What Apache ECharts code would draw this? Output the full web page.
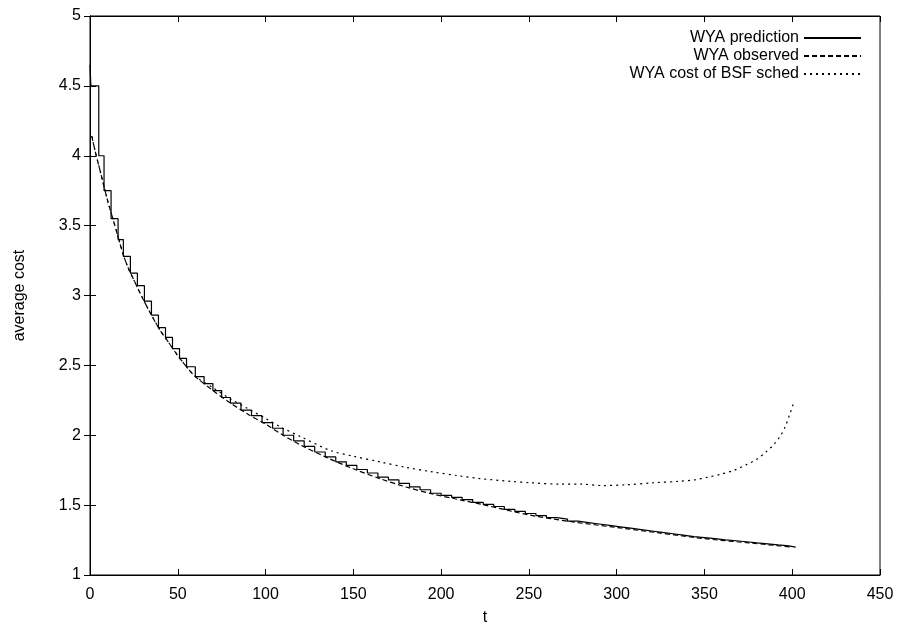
<!DOCTYPE html>
<html>
<head>
<meta charset="utf-8">
<script src="https://cdn.jsdelivr.net/npm/echarts@6/dist/echarts.min.js"></script>
<style>
html,body{margin:0;padding:0;background:#fff;}
#chart{width:899px;height:631px;}
</style>
</head>
<body>
<div id="chart"></div>
<script>
// ---- data ----
const xTicks = [0, 50, 100, 150, 200, 250, 300, 350, 400, 450];
const yTicks = [1, 1.5, 2, 2.5, 3, 3.5, 4, 4.5, 5];

// WYA prediction (step function)
const predT = [0, 0.5, 5, 8, 12, 16, 19, 23, 27, 31, 35, 39, 43, 47, 51, 55, 60, 65, 70, 75, 80, 86, 92, 98,
  104, 110, 116, 122, 128, 134, 140, 146, 152, 158, 164, 170, 176, 182, 188, 194, 200, 206, 212, 218, 224, 230,
  236, 242, 248, 254, 260, 266, 272, 278, 284, 290, 296, 302, 308, 314, 320, 326, 332, 338, 344, 350, 356, 362,
  368, 374, 380, 386, 392, 398, 402];
const predV = [4.65, 4.5, 4.0, 3.75, 3.55, 3.40, 3.28, 3.16, 3.07, 2.96, 2.86, 2.77, 2.70, 2.62, 2.55, 2.49, 2.42, 2.37, 2.32, 2.27, 2.23, 2.18, 2.14, 2.09,
  2.05, 2.00, 1.96, 1.92, 1.88, 1.845, 1.81, 1.785, 1.755, 1.73, 1.70, 1.68, 1.655, 1.63, 1.61, 1.585, 1.57, 1.555, 1.54, 1.52, 1.505, 1.49,
  1.47, 1.455, 1.44, 1.425, 1.41, 1.40, 1.385, 1.375, 1.365, 1.355, 1.345, 1.335, 1.325, 1.315, 1.305, 1.295, 1.285, 1.275, 1.268, 1.26, 1.252, 1.245,
  1.238, 1.23, 1.223, 1.215, 1.208, 1.20, 1.195];

// WYA observed
const obsT = [1, 3, 5, 7, 10, 13, 16, 19, 22, 25, 30, 35, 40, 45, 50, 55, 60, 70, 80, 90, 100, 110, 120, 135, 150, 165, 180, 195, 210, 225, 250, 275, 300, 325, 350, 375, 400];
const obsV = [4.14, 4.03, 3.93, 3.83, 3.68, 3.55, 3.42, 3.29, 3.19, 3.11, 2.98, 2.86, 2.75, 2.66, 2.57, 2.49, 2.42, 2.32, 2.23, 2.15, 2.08, 2.00, 1.93, 1.84, 1.76, 1.69, 1.63, 1.58, 1.54, 1.50, 1.43, 1.38, 1.34, 1.30, 1.26, 1.23, 1.20];

// WYA cost of BSF sched
const bsfT = [1, 3, 5, 7, 10, 13, 16, 19, 22, 25, 30, 35, 40, 45, 50, 55, 60, 70, 80, 90, 100, 110, 120, 137, 150, 165, 180, 194, 210, 222, 240, 251, 268, 280, 292, 305, 321, 335, 344, 352, 359, 367, 374, 380, 385, 390, 393, 396, 398.6, 400.5];
const bsfV = [4.14, 4.03, 3.93, 3.83, 3.68, 3.55, 3.42, 3.29, 3.19, 3.11, 2.98, 2.86, 2.75, 2.66, 2.57, 2.49, 2.42, 2.34, 2.26, 2.19, 2.12, 2.05, 1.99, 1.89, 1.85, 1.81, 1.77, 1.74, 1.71, 1.69, 1.67, 1.66, 1.65, 1.65, 1.64, 1.645, 1.66, 1.67, 1.68, 1.70, 1.72, 1.75, 1.79, 1.83, 1.88, 1.94, 1.99, 2.06, 2.15, 2.22];

const zip = (a, b) => a.map((v, i) => [v, b[i]]);

const FONT = 'Liberation Sans, Arial, Helvetica, sans-serif';
const chart = echarts.init(document.getElementById('chart'), null, {renderer: 'canvas'});

const tickStyle = {show: true, inside: true, length: 6, lineStyle: {color: '#000', width: 1}};
const axisLine = {show: true, lineStyle: {color: '#000', width: 1}};

chart.setOption({
  animation: false,
  backgroundColor: '#fff',
  textStyle: {fontFamily: FONT},
  grid: {left: 90, right: 19, top: 16, bottom: 53, show: true, borderColor: '#000', borderWidth: 1, containLabel: false},
  legend: {
    orient: 'vertical', align: 'right', right: 32, top: 25,
    itemWidth: 57, itemHeight: 16, itemGap: 2,
    itemStyle: {opacity: 0, borderWidth: 0},
    textStyle: {fontFamily: FONT, fontSize: 16, color: '#000'},
    data: ['WYA prediction', 'WYA observed', 'WYA cost of BSF sched']
  },
  xAxis: [
    {type: 'value', min: 0, max: 450, interval: 50, position: 'bottom',
     name: 't', nameLocation: 'middle', nameGap: 35,
     nameTextStyle: {fontFamily: FONT, fontSize: 16, color: '#000'},
     axisLine: axisLine, axisTick: tickStyle, splitLine: {show: false},
     axisLabel: {fontFamily: FONT, fontSize: 16, color: '#000', margin: 12}},
    {type: 'value', min: 0, max: 450, interval: 50, position: 'top',
     axisLine: axisLine, axisTick: tickStyle, splitLine: {show: false},
     axisLabel: {show: false}}
  ],
  yAxis: [
    {type: 'value', min: 1, max: 5, interval: 0.5, position: 'left',
     name: 'average cost', nameLocation: 'middle', nameGap: 62, nameRotate: 90,
     nameTextStyle: {fontFamily: FONT, fontSize: 16, color: '#000'},
     axisLine: axisLine, axisTick: tickStyle, splitLine: {show: false},
     axisLabel: {fontFamily: FONT, fontSize: 16, color: '#000', margin: 9}},
    {type: 'value', min: 1, max: 5, interval: 0.5, position: 'right',
     axisLine: axisLine, axisTick: tickStyle, splitLine: {show: false},
     axisLabel: {show: false}}
  ],
  series: [
    {name: 'WYA prediction', type: 'line', step: 'end', symbol: 'none',
     data: zip(predT, predV),
     lineStyle: {color: '#000', width: 1.2, type: 'solid'}, itemStyle: {color: '#000'}},
    {name: 'WYA observed', type: 'line', symbol: 'none', smooth: 0.3,
     data: zip(obsT, obsV),
     lineStyle: {color: '#000', width: 1.2, type: [5, 3]}, itemStyle: {color: '#000'}},
    {name: 'WYA cost of BSF sched', type: 'line', symbol: 'none', smooth: 0.3,
     data: zip(bsfT, bsfV),
     lineStyle: {color: '#000', width: 1.2, type: [2, 4]}, itemStyle: {color: '#000'}}
  ]
});
</script>
</body>
</html>
